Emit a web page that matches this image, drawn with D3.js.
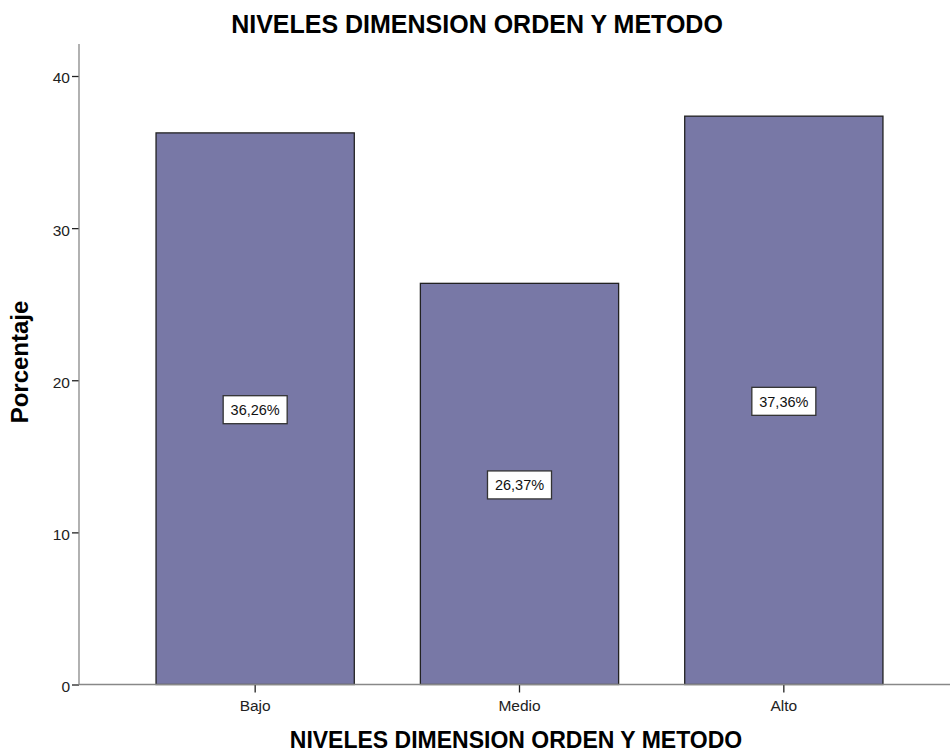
<!DOCTYPE html>
<html><head><meta charset="utf-8">
<script src="https://cdn.jsdelivr.net/npm/d3@7"></script>
<style>body{margin:0;background:#fff}svg{display:block;font-family:"Liberation Sans",Arial,sans-serif}</style>
</head><body><svg id="c" width="950" height="753"></svg>
<script>
const categories = ["Bajo", "Medio", "Alto"];
const values = [36.26, 26.37, 37.36];
const labels = ["36,26%", "26,37%", "37,36%"];
const yTicks = [0, 10, 20, 30, 40];
const title = "NIVELES DIMENSION ORDEN Y METODO";
const xTitle = "NIVELES DIMENSION ORDEN Y METODO";
const yTitle = "Porcentaje";

const svg = d3.select("#c");
const pLeft = 79, pRight = 950, pTop = 44, pBottom = 684.5;
const y = d3.scaleLinear().domain([0, 40]).range([pBottom, 76]);
const x = d3.scaleBand().domain(categories).range([123, 916]).paddingInner(0.25).paddingOuter(0.125);
const FF = "Liberation Sans, Arial, sans-serif";

svg.append("text").attr("x", 477).attr("y", 33).attr("text-anchor", "middle")
  .attr("font-size", 25).attr("font-weight", "bold").attr("fill", "#000").text(title);

// bars
svg.selectAll("rect.bar").data(values).join("rect").attr("class", "bar")
  .attr("x", (d, i) => x(categories[i])).attr("width", x.bandwidth())
  .attr("y", d => y(d)).attr("height", d => pBottom - y(d))
  .attr("fill", "#7878a6").attr("stroke", "#222").attr("stroke-width", 1.3);

// y axis
const ya = svg.append("g").attr("transform", `translate(${pLeft},0)`)
  .call(d3.axisLeft(y).tickValues(yTicks).tickSize(7).tickPadding(2));
ya.select(".domain").remove();
ya.selectAll("line").attr("stroke", "#222").attr("stroke-width", 1.3);
ya.selectAll("text").attr("font-size", 15.5).attr("fill", "#222").attr("font-family", FF).attr("dy", "0.45em");
svg.append("line").attr("x1", pLeft).attr("x2", pLeft).attr("y1", pTop).attr("y2", pBottom).attr("stroke", "#888").attr("stroke-width", 1.3);

// x axis
const xa = svg.append("g").attr("transform", `translate(0,${pBottom})`)
  .call(d3.axisBottom(x).tickSize(8).tickPadding(0));
xa.select(".domain").remove();
xa.selectAll("line").attr("stroke", "#222").attr("stroke-width", 1.3);
xa.selectAll("text").attr("font-size", 15.5).attr("fill", "#222").attr("font-family", FF)
  .attr("dy", null).attr("y", 26);
svg.append("line").attr("x1", pLeft).attr("x2", pRight).attr("y1", pBottom).attr("y2", pBottom).attr("stroke", "#888").attr("stroke-width", 1.3);

// value labels
const lg = svg.selectAll("g.lbl").data(values).join("g").attr("class", "lbl")
  .attr("transform", (d, i) => `translate(${x(categories[i]) + x.bandwidth() / 2},${y(d / 2)})`);
lg.append("rect").attr("x", -32).attr("y", -13).attr("width", 64).attr("height", 28)
  .attr("fill", "#fff").attr("stroke", "#333").attr("stroke-width", 1.3);
lg.append("text").attr("text-anchor", "middle").attr("y", 6.5).attr("font-size", 14.5).attr("fill", "#111")
  .text((d, i) => labels[i]);

svg.append("text").attr("x", 516).attr("y", 748).attr("text-anchor", "middle")
  .attr("font-size", 23).attr("font-weight", "bold").attr("fill", "#000").text(xTitle);
svg.append("text").attr("transform", "translate(28,362) rotate(-90)").attr("text-anchor", "middle")
  .attr("font-size", 24).attr("font-weight", "bold").attr("fill", "#000").text(yTitle);
</script></body></html>
